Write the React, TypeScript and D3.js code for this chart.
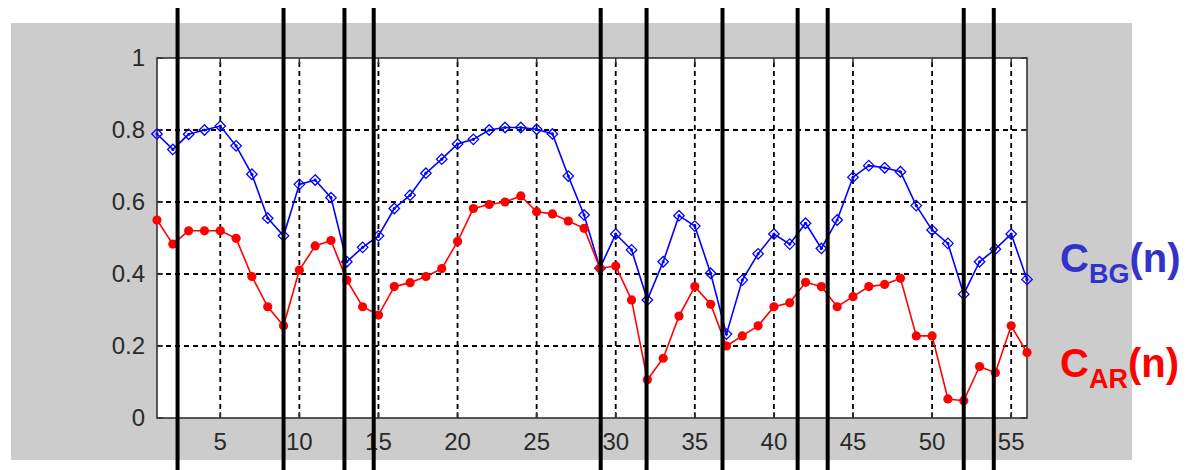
import React, { useRef, useEffect } from "react";
import * as d3 from "d3";

const nValues = d3.range(1, 57);

// C_BG(n), blue diamonds
const cBG = [
  0.789, 0.746, 0.788, 0.8, 0.811, 0.756, 0.677, 0.555, 0.506, 0.649,
  0.661, 0.612, 0.434, 0.474, 0.506, 0.582, 0.619, 0.68, 0.719, 0.761,
  0.774, 0.8, 0.807, 0.807, 0.802, 0.789, 0.672, 0.564, 0.416, 0.511,
  0.467, 0.328, 0.434, 0.562, 0.533, 0.402, 0.233, 0.383, 0.456, 0.511,
  0.483, 0.541, 0.471, 0.55, 0.669, 0.701, 0.695, 0.684, 0.59, 0.522,
  0.485, 0.344, 0.434, 0.469, 0.511, 0.385,
];

// C_AR(n), red dots
const cAR = [
  0.55, 0.483, 0.52, 0.52, 0.52, 0.499, 0.393, 0.309, 0.256, 0.411,
  0.478, 0.493, 0.383, 0.309, 0.286, 0.365, 0.376, 0.393, 0.415, 0.49,
  0.582, 0.593, 0.6, 0.617, 0.573, 0.567, 0.547, 0.527, 0.416, 0.422,
  0.328, 0.106, 0.166, 0.283, 0.365, 0.316, 0.2, 0.228, 0.256, 0.309,
  0.32, 0.377, 0.365, 0.309, 0.337, 0.365, 0.371, 0.388, 0.228, 0.228,
  0.053, 0.048, 0.143, 0.126, 0.256, 0.182,
];

// hand drawn segment boundaries (in n units)
const boundaries = [2.3, 9, 12.85, 14.7, 29.05, 31.95, 36.75, 41.5, 43.4, 52, 53.9];

const xTicks = [5, 10, 15, 20, 25, 30, 35, 40, 45, 50, 55];
const yTicks = [0, 0.2, 0.4, 0.6, 0.8, 1];

const W = 1187;
const H = 470;

function App() {
  const svgRef = useRef(null);

  useEffect(() => {
    const svg = d3.select(svgRef.current);
    svg.selectAll("*").remove();

    const x = d3.scaleLinear().domain([1, 56]).range([157, 1027]);
    const y = d3.scaleLinear().domain([0, 1]).range([418, 58]);
    const font = "'Liberation Sans', Arial, sans-serif";

    // gray figure background
    svg.append("rect").attr("x", 11).attr("y", 23).attr("width", 1121).attr("height", 437).attr("fill", "#cccccc");

    // axes area
    svg
      .append("rect")
      .attr("x", x(1))
      .attr("y", y(1))
      .attr("width", x(56) - x(1))
      .attr("height", y(0) - y(1))
      .attr("fill", "#fff");

    // grid
    const grid = svg.append("g").attr("stroke", "#000").attr("stroke-width", 1.8).attr("stroke-dasharray", "5,4");
    grid
      .selectAll("line.gx")
      .data(xTicks)
      .join("line")
      .attr("x1", (d) => x(d))
      .attr("x2", (d) => x(d))
      .attr("y1", y(0))
      .attr("y2", y(1));
    grid
      .selectAll("line.gy")
      .data(yTicks.filter((d) => d > 0 && d < 1))
      .join("line")
      .attr("class", "gy")
      .attr("x1", x(1))
      .attr("x2", x(56))
      .attr("y1", (d) => y(d))
      .attr("y2", (d) => y(d));

    // inward ticks
    const ticks = svg.append("g").attr("stroke", "#333").attr("stroke-width", 1.5);
    xTicks.forEach((t) => {
      ticks.append("line").attr("x1", x(t)).attr("x2", x(t)).attr("y1", y(0)).attr("y2", y(0) - 6);
      ticks.append("line").attr("x1", x(t)).attr("x2", x(t)).attr("y1", y(1)).attr("y2", y(1) + 6);
    });
    yTicks.forEach((t) => {
      ticks.append("line").attr("x1", x(1)).attr("x2", x(1) + 6).attr("y1", y(t)).attr("y2", y(t));
      ticks.append("line").attr("x1", x(56)).attr("x2", x(56) - 6).attr("y1", y(t)).attr("y2", y(t));
    });

    // box
    svg
      .append("rect")
      .attr("x", x(1))
      .attr("y", y(1))
      .attr("width", x(56) - x(1))
      .attr("height", y(0) - y(1))
      .attr("fill", "none")
      .attr("stroke", "#333")
      .attr("stroke-width", 1.6);

    // tick labels
    svg
      .append("g")
      .selectAll("text")
      .data(xTicks)
      .join("text")
      .attr("x", (d) => x(d))
      .attr("y", 450)
      .attr("text-anchor", "middle")
      .attr("font-family", font)
      .attr("font-size", 24)
      .attr("fill", "#2a2a2a")
      .text((d) => d);
    svg
      .append("g")
      .selectAll("text")
      .data(yTicks)
      .join("text")
      .attr("x", 145)
      .attr("y", (d) => y(d) + 8)
      .attr("text-anchor", "end")
      .attr("font-family", font)
      .attr("font-size", 24)
      .attr("fill", "#2a2a2a")
      .text((d) => d3.format("~g")(d));

    const line = d3
      .line<number>()
      .x((d, i) => x(nValues[i]))
      .y((d) => y(d));

    // blue series
    svg.append("path").attr("d", line(cBG)).attr("fill", "none").attr("stroke", "#0000ff").attr("stroke-width", 1.6);
    const dia = d3.symbol().type(d3.symbolDiamond2).size(70);
    svg
      .append("g")
      .selectAll("path")
      .data(cBG)
      .join("path")
      .attr("transform", (d, i) => `translate(${x(nValues[i])},${y(d)})`)
      .attr("d", dia())
      .attr("fill", "none")
      .attr("stroke", "#0000ff")
      .attr("stroke-width", 1.3);
    svg
      .append("g")
      .selectAll("circle")
      .data(cBG)
      .join("circle")
      .attr("cx", (d, i) => x(nValues[i]))
      .attr("cy", (d) => y(d))
      .attr("r", 1.6)
      .attr("fill", "#0000ff");

    // red series
    svg.append("path").attr("d", line(cAR)).attr("fill", "none").attr("stroke", "#ff0000").attr("stroke-width", 1.6);
    svg
      .append("g")
      .selectAll("circle")
      .data(cAR)
      .join("circle")
      .attr("cx", (d, i) => x(nValues[i]))
      .attr("cy", (d) => y(d))
      .attr("r", 4.6)
      .attr("fill", "#ff0000");

    // vertical segment lines drawn over everything
    svg
      .append("g")
      .selectAll("line")
      .data(boundaries)
      .join("line")
      .attr("x1", (d) => x(d))
      .attr("x2", (d) => x(d))
      .attr("y1", 8)
      .attr("y2", H)
      .attr("stroke", "#000")
      .attr("stroke-width", 4);

    // labels at right
    const legend = [
      { main: "C", sub: "BG", color: "#3333cc", base: 272 },
      { main: "C", sub: "AR", color: "#ff0000", base: 377 },
    ];
    legend.forEach((l) => {
      const t = svg
        .append("text")
        .attr("x", 1060)
        .attr("y", l.base)
        .attr("font-family", font)
        .attr("font-weight", "bold")
        .attr("fill", l.color)
        .attr("font-size", 40);
      t.append("tspan").text(l.main);
      t.append("tspan").attr("font-size", 27).attr("dy", 11).text(l.sub);
      t.append("tspan").attr("dy", -11).text("(n)");
    });
  }, []);

  return (
    <svg
      ref={svgRef}
      width={W}
      height={H}
      style={{ position: "absolute", left: 0, top: 0, background: "#fff" }}
    />
  );
}

export default App;
